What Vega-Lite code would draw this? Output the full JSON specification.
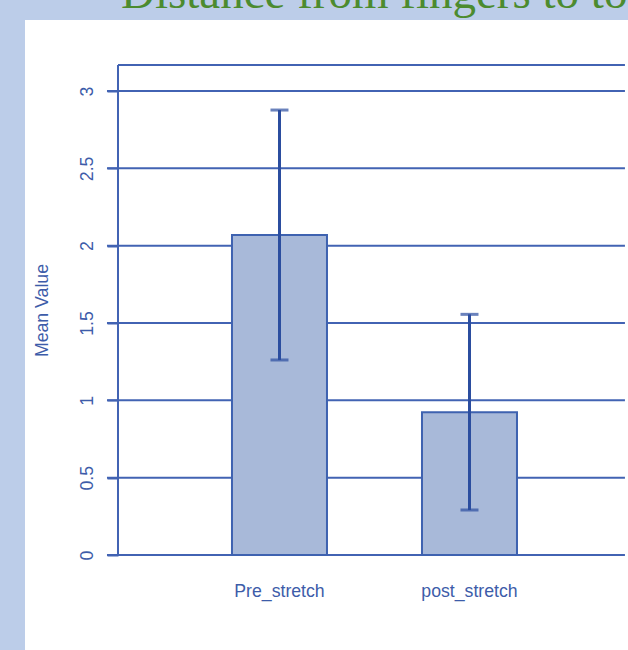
{
  "$schema": "https://vega.github.io/schema/vega-lite/v6.json",
  "width": 603,
  "height": 630,
  "autosize": {"type": "none"},
  "padding": {"left": 25, "top": 20, "right": 0, "bottom": 0},
  "background": "#bccde9",
  "config": {
    "view": {"fill": "white", "stroke": null},
    "font": "Liberation Sans"
  },
  "title": {
    "text": "Distance from fingers to toes",
    "anchor": "start",
    "frame": "group",
    "dx": 96,
    "offset": -35,
    "baseline": "alphabetic",
    "font": "Liberation Serif",
    "fontSize": 47,
    "fontWeight": "normal",
    "color": "#4c8b2f"
  },
  "datasets": {
    "bars": [
      {"condition": "Pre_stretch", "mean": 2.069, "lo": 1.261, "hi": 2.877},
      {"condition": "post_stretch", "mean": 0.923, "lo": 0.291, "hi": 1.556}
    ],
    "lines": [
      {"x1": -0.0216, "x2": 0.994, "y1": 0, "y2": 0},
      {"x1": -0.0216, "x2": 0.994, "y1": 0.5, "y2": 0.5},
      {"x1": -0.0216, "x2": 0.994, "y1": 1, "y2": 1},
      {"x1": -0.0216, "x2": 0.994, "y1": 1.5, "y2": 1.5},
      {"x1": -0.0216, "x2": 0.994, "y1": 2, "y2": 2},
      {"x1": -0.0216, "x2": 0.994, "y1": 2.5, "y2": 2.5},
      {"x1": -0.0216, "x2": 0.994, "y1": 3, "y2": 3},
      {"x1": 0, "x2": 0.994, "y1": 3.168, "y2": 3.168},
      {"x1": 0, "x2": 0, "y1": 0, "y2": 3.168}
    ]
  },
  "layer": [
    {
      "data": {"name": "lines"},
      "mark": {"type": "rule", "color": "#4263b3", "strokeWidth": 2},
      "encoding": {
        "x": {"field": "x1", "type": "quantitative", "scale": {"domain": [-0.18235, 1], "nice": false, "zero": false}, "axis": null},
        "x2": {"field": "x2"},
        "y": {
          "field": "y1",
          "type": "quantitative",
          "scale": {"domain": [-0.6142, 3.4591], "nice": false, "zero": false},
          "axis": {
            "values": [0, 0.5, 1, 1.5, 2, 2.5, 3],
            "labelExpr": "datum.value + ''",
            "offset": -93,
            "domain": false,
            "grid": false,
            "ticks": true,
            "tickSize": 11,
            "tickColor": "#4263b3",
            "tickWidth": 2,
            "labelAngle": 270,
            "labelAlign": "center",
            "labelBaseline": "alphabetic",
            "labelPadding": 15,
            "labelFont": "Liberation Sans",
            "labelFontSize": 17.7,
            "labelColor": "#3d5ca9",
            "title": "Mean Value",
            "titleFont": "Liberation Sans",
            "titleFontSize": 17.7,
            "titleFontWeight": "normal",
            "titleColor": "#3d5ca9",
            "titleAngle": 270,
            "titleAlign": "center",
            "titleBaseline": "alphabetic",
            "titleX": -71,
            "titleY": 290
          }
        },
        "y2": {"field": "y2"}
      }
    },
    {
      "data": {"name": "bars"},
      "encoding": {
        "x": {
          "field": "condition",
          "type": "nominal",
          "sort": null,
          "scale": {"domain": ["Pre_stretch", "post_stretch"], "paddingInner": 0.5, "paddingOuter": 0.8368, "align": 0.6509},
          "axis": {
            "orient": "bottom",
            "offset": -95,
            "ticks": false,
            "tickSize": 0,
            "domain": false,
            "grid": false,
            "labelAngle": 0,
            "labelFont": "Liberation Sans",
            "labelFontSize": 17.7,
            "labelColor": "#3d5ca9",
            "labelPadding": 41,
            "labelBaseline": "alphabetic",
            "title": null
          }
        }
      },
      "layer": [
        {
          "mark": {"type": "bar", "fill": "#a8b9d9", "stroke": "#3e62b0", "strokeWidth": 2},
          "encoding": {
            "y": {"field": "mean", "type": "quantitative"},
            "y2": {"datum": 0}
          }
        },
        {
          "mark": {"type": "rule", "color": "#2b4d9f", "strokeWidth": 3},
          "encoding": {
            "y": {"field": "lo", "type": "quantitative"},
            "y2": {"field": "hi"}
          }
        },
        {
          "mark": {"type": "tick", "color": "#2b4d9f", "thickness": 3, "size": 18},
          "encoding": {"y": {"field": "lo", "type": "quantitative"}}
        },
        {
          "mark": {"type": "tick", "color": "#2b4d9f", "thickness": 3, "size": 18},
          "encoding": {"y": {"field": "hi", "type": "quantitative"}}
        }
      ]
    }
  ],
  "resolve": {"scale": {"x": "independent", "y": "shared"}}
}
